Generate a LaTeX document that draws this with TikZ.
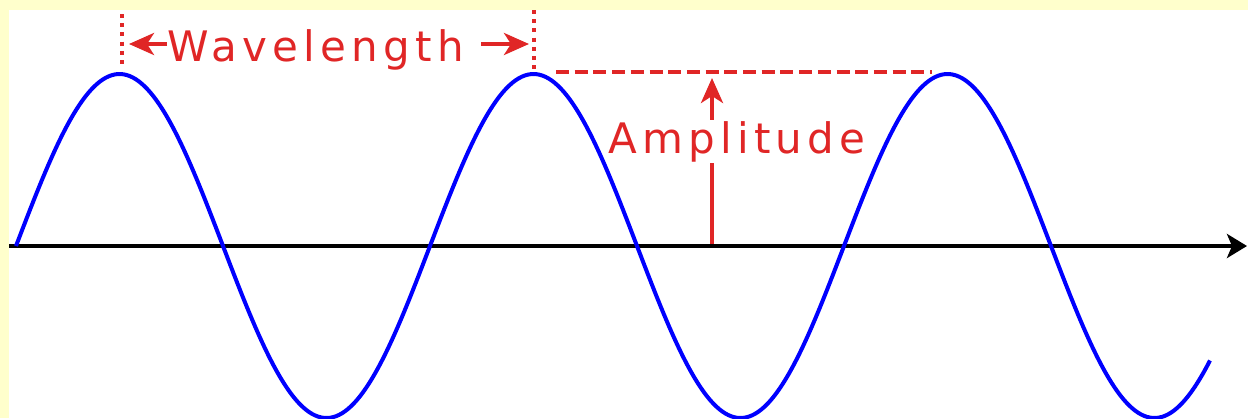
\documentclass[tikz,border=0pt]{standalone}
\usepackage{fontspec}
\setmainfont{DejaVu Sans}
\newfontfamily\lblfont{DejaVu Sans}[LetterSpace=12.5]
\usetikzlibrary{arrows.meta}
\definecolor{wred}{RGB}{224,38,38}
\definecolor{wblue}{RGB}{0,0,255}
\definecolor{wyellow}{RGB}{255,255,204}
\tikzset{
  redline/.style={draw=wred, line width=4pt},
  redarrow/.style={redline, -{Stealth[length=25pt,width=22pt,inset=7pt]}},
  reddots/.style={draw=wred, line width=4pt, dash pattern=on 4pt off 5.2pt},
  reddash/.style={draw=wred, line width=4pt, dash pattern=on 13pt off 5.7pt},
  lbl/.style={text=wred, inner sep=1pt, font=\lblfont\fontsize{42}{50}\selectfont},
  axisline/.style={draw=black, line width=4pt, -{Stealth[length=20pt,width=24pt,inset=5pt]}},
  wave/.style={draw=wblue, line width=4pt, line join=round}
}
\begin{document}
\begin{tikzpicture}[x=1pt,y=-1pt]
\useasboundingbox (0,0) rectangle (1248,418);
\fill[wyellow] (0,0) rectangle (1248,418);
\fill[white] (9,10) rectangle (1248,418);
% axis
\coordinate (ax0) at (9,246);
\coordinate (ax1) at (1247,246);
\draw[axisline] (ax0) -- (ax1);
% wavelength
\coordinate (d1a) at (122,14);
\coordinate (d1b) at (122,67);
\coordinate (d2a) at (534,10);
\coordinate (d2b) at (534,70);
\draw[reddots] (d1a) -- (d1b);
\draw[reddots] (d2a) -- (d2b);
\node[lbl, anchor=base west, inner sep=0pt] (wl) at (167,61) {Wavelength};
\coordinate (wlA) at (129,44);
\coordinate (wlB) at (529,44);
\coordinate (wlC) at (481,44);
\draw[redarrow] (wlA -| wl.west) -- (wlA);
\draw[redarrow] (wlC) -- (wlB);
% amplitude
\coordinate (ampL) at (556,72);
\coordinate (ampR) at (932,72);
\draw[reddash] (ampL) -- (ampR);
\node[lbl, anchor=base west] (amp) at (607,153) {Amplitude};
\coordinate (ampB) at (712,244);
\coordinate (ampT) at (712,78);
\draw[redline] (ampB) -- (amp.south -| ampB);
\draw[redarrow] (amp.north -| ampB) -- (ampT);
% wave
\draw[wave] plot[domain=16:1210, samples=400, smooth] (\x, {246 - 172*sin(0.869565*(\x-16))});
\end{tikzpicture}
\end{document}
